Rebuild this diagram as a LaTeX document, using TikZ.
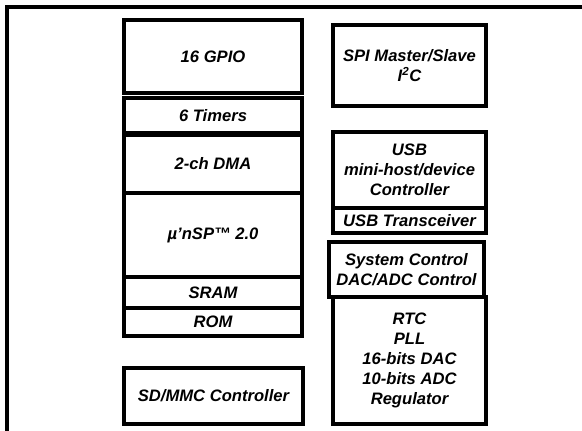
\documentclass[tikz,border=0pt]{standalone}
\usepackage{fontspec}
\setmainfont{Liberation Sans}
\usepackage{tikz}

\tikzset{
  blk/.style={draw, line width=3.2pt, align=center, inner sep=0pt,
    font=\bfseries\itshape\fontsize{16.6}{20}\selectfont},
  frame/.style={line width=3.2pt}
}

\begin{document}
\begin{tikzpicture}[x=1pt,y=-1pt]
\def\lx{213}   % Mitte linke Spalte
\def\lw{178}   % Breite linke Spalte
\def\rx{409.5} % Mitte rechte Spalte
\def\rw{153}   % Breite rechte Spalte

\useasboundingbox (0,0) rectangle (582,431);

% =========================================================
% Rahmen (nur oben und links sichtbar)
% =========================================================
\draw[frame] (7,431) |- (582,7);

% =========================================================
% LINKE SPALTE
% =========================================================
\node[blk, minimum width=\lw, minimum height=73] (gpio) at (\lx,56.5) {16 GPIO};
\node[blk, minimum width=\lw, minimum height=35] (timers) at (\lx,115.5) {6 Timers};
\node[blk, minimum width=\lw, minimum height=58] (dma) at (\lx,164) {2-ch DMA};
\node[blk, minimum width=\lw, minimum height=84] (cpu) at (\lx,235) {µ’nSP™ 2.0};
\node[blk, minimum width=\lw, minimum height=31] (sram) at (\lx,292.5) {SRAM};
\node[blk, minimum width=\lw, minimum height=28] (rom) at (\lx,322) {ROM};

% SD-Karte unten
\node[blk, minimum width=179, minimum height=56] (sdmmc) at (\lx+0.5,396) {SD/MMC Controller};

% =========================================================
% RECHTE SPALTE
% =========================================================
\node[blk, minimum width=\rw, minimum height=81] (spi) at (\rx,65.5)
  {SPI Master/Slave\\I\textsuperscript{2}C};
\node[blk, minimum width=\rw, minimum height=76] (usb) at (\rx,170)
  {USB\\mini-host/device\\Controller};
\node[blk, minimum width=\rw, minimum height=25] (usbphy) at (\rx,220.5) {USB Transceiver};

% Systemsteuerung (etwas nach links versetzt)
\node[blk, minimum width=155, minimum height=55] (sysctrl) at (\rx-3,269.5)
  {System Control\\DAC/ADC Control};
\node[blk, minimum width=\rw, minimum height=127] (analog) at (\rx,360.5)
  {RTC\\PLL\\16-bits DAC\\10-bits ADC\\Regulator};

\end{tikzpicture}
\end{document}
